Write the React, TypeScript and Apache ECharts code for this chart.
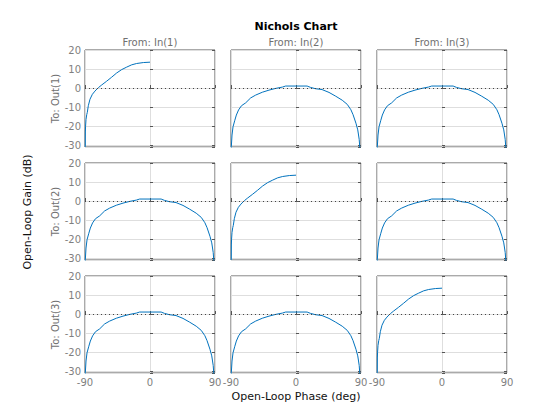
import React, { useEffect, useRef } from "react";
import * as echarts from "echarts";

const inputLabels = ["From: In(1)", "From: In(2)", "From: In(3)"];
const outputLabels = ["To: Out(1)", "To: Out(2)", "To: Out(3)"];
const xTicks = [-90, 0, 90];
const yTicks = [-30, -20, -10, 0, 10, 20];

// diagonal channels (same response)
const diagPhase = [-89.6, -89.5, -89.2, -88.6, -87.6, -86.8, -85.4, -83.1, -79.8, -76.2, -71.5, -66.9, -60, -53.1, -46.2, -39.2, -32.3, -25.4, -18.5, -9.2, 0];
const diagGain = [-31, -23.1, -20, -16.5, -14, -12.8, -9.3, -5.9, -3.3, -1.6, 0.2, 1.6, 3.6, 5.7, 7.9, 9.7, 11.0, 12.2, 12.9, 13.4, 13.6];

// off-diagonal channels (same response)
const offPhase = [-89.7, -89.5, -88.6, -87.2, -84.9, -82.6, -79.5, -75.5, -69.7, -62.8, -55.8, -46.6, -37.4, -28.2, -18.9, -14.3, 0, 15.4, 20, 27, 36, 45.7, 55, 64, 71, 76, 79, 83, 85.5, 87.5, 88.5];
const offGain = [-31.5, -30.5, -24.7, -20.4, -17.2, -14.2, -11.5, -9.3, -7.8, -5.2, -3.7, -2.2, -1.1, -0.2, 0.5, 1.05, 1.05, 1.05, 0.35, -0.35, -0.8, -2.3, -4.3, -6.4, -8.6, -11.4, -14, -18.5, -22, -27, -32];

const colLefts = [85, 231, 377];
const rowTops = [50, 163, 276];
const panelW = 130;
const panelH = 97;

export default function App() {
  const ref = useRef<HTMLDivElement>(null);
  useEffect(() => {
    if (!ref.current) return;
    const chart = echarts.init(ref.current, null, { renderer: "svg" });
    const diagData = diagPhase.map((p, i) => [p, diagGain[i]]);
    const offData = offPhase.map((p, i) => [p, offGain[i]]);
    const grids: any[] = [];
    const xAxes: any[] = [];
    const yAxes: any[] = [];
    const series: any[] = [];
    const font = "DejaVu Sans";
    const gray = "#7f7f7f";
    const yFmt = (v: number) =>
      Math.abs(v - Math.round(v)) < 1e-6 && yTicks.includes(Math.round(v)) ? String(v) : "";
    let idx = 0;
    for (let r = 0; r < 3; r++) {
      for (let c = 0; c < 3; c++) {
        grids.push({
          left: colLefts[c],
          top: rowTops[r],
          width: panelW,
          height: panelH,
          show: true,
          borderColor: "#555555",
          borderWidth: 1,
          backgroundColor: "#ffffff",
        });
        xAxes.push({
          type: "value",
          gridIndex: idx,
          min: xTicks[0],
          max: xTicks[xTicks.length - 1],
          interval: 90,
          axisLine: { show: false },
          axisTick: { show: true, inside: true, length: 3, lineStyle: { color: "#555" } },
          axisLabel: {
            show: r === 2,
            color: gray,
            fontFamily: font,
            fontSize: 10,
            margin: 4,
          },
          splitLine: { show: true, lineStyle: { color: "#dedede", width: 1 } },
        });
        yAxes.push({
          type: "value",
          gridIndex: idx,
          min: -31,
          max: yTicks[yTicks.length - 1],
          minInterval: 10,
          maxInterval: 10,
          axisLine: { show: false },
          axisTick: { show: true, inside: true, length: 3, lineStyle: { color: "#555" } },
          axisLabel: {
            show: c === 0,
            color: gray,
            fontFamily: font,
            fontSize: 10,
            margin: 4,
            formatter: yFmt,
          },
          splitLine: { show: true, lineStyle: { color: "#dedede", width: 1 } },
        });
        series.push({
          type: "line",
          xAxisIndex: idx,
          yAxisIndex: idx,
          data: r === c ? diagData : offData,
          showSymbol: false,
          symbol: "none",
          lineStyle: { color: "#0072BD", width: 1 },
          clip: true,
          silent: true,
          markLine: {
            silent: true,
            symbol: ["none", "none"],
            label: { show: false },
            lineStyle: { color: "#444", type: [1, 3], width: 1 },
            data: [{ yAxis: 0 }],
          },
        });
        idx++;
      }
    }
    // right-side tick axes
    for (let g = 0; g < 9; g++) {
      yAxes.push({
        type: "value",
        gridIndex: g,
        position: "right",
        min: -31,
        max: yTicks[yTicks.length - 1],
        minInterval: 10,
        maxInterval: 10,
        axisLine: { show: false },
        axisTick: { show: true, inside: true, length: 3, lineStyle: { color: "#555" } },
        axisLabel: { show: false },
        splitLine: { show: false },
      });
    }
    const graphics: any[] = [
      {
        type: "text",
        x: 296,
        y: 26,
        style: { text: "Nichols Chart", font: `bold 11px ${font}`, fill: "#000", align: "center", verticalAlign: "middle" },
      },
      {
        type: "text",
        x: 27,
        y: 212,
        rotation: Math.PI / 2,
        style: { text: "Open-Loop Gain (dB)", font: `11px ${font}`, fill: "#111", align: "center", verticalAlign: "middle" },
      },
      {
        type: "text",
        x: 296,
        y: 396,
        style: { text: "Open-Loop Phase (deg)", font: `11px ${font}`, fill: "#111", align: "center", verticalAlign: "middle" },
      },
    ];
    inputLabels.forEach((t, c) => {
      graphics.push({
        type: "text",
        x: colLefts[c] + panelW / 2,
        y: 42,
        style: { text: t, font: `10px ${font}`, fill: "#707070", align: "center", verticalAlign: "middle" },
      });
    });
    outputLabels.forEach((t, r) => {
      graphics.push({
        type: "text",
        x: 55,
        y: rowTops[r] + panelH / 2,
        rotation: Math.PI / 2,
        style: { text: t, font: `10px ${font}`, fill: "#707070", align: "center", verticalAlign: "middle" },
      });
    });
    chart.setOption({
      animation: false,
      backgroundColor: "#ffffff",
      grid: grids,
      xAxis: xAxes,
      yAxis: yAxes,
      series,
      graphic: graphics,
    });
    return () => chart.dispose();
  }, []);
  return <div ref={ref} style={{ width: 560, height: 420, position: "absolute", left: 0, top: 0 }} />;
}
